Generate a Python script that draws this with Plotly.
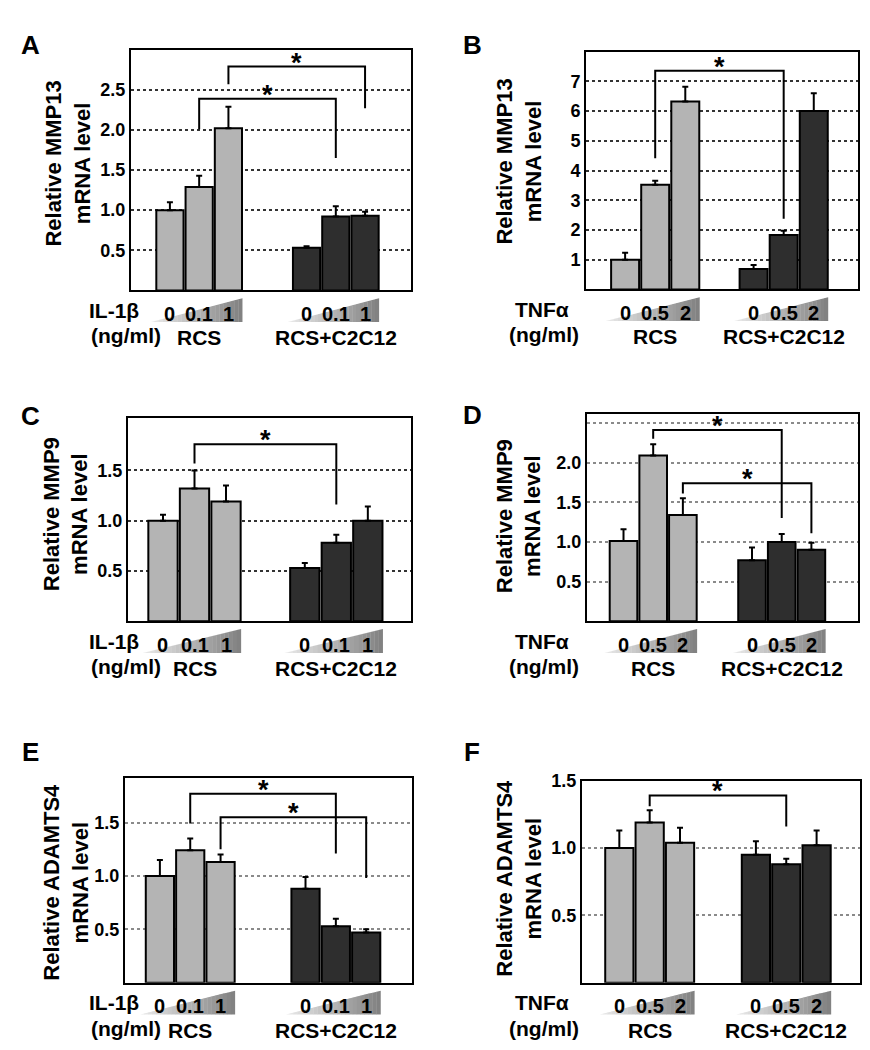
import plotly.graph_objects as go

W, H = 870, 1050
FONT = "Liberation Sans, Arial, sans-serif"

# ---------------- data ----------------
panel_letters = ["A", "B", "C", "D", "E", "F"]
genes = ["MMP13", "MMP13", "MMP9", "MMP9", "ADAMTS4", "ADAMTS4"]
stimuli = ["IL-1β", "TNFα", "IL-1β", "TNFα", "IL-1β", "TNFα"]
doses_il1b = ["0", "0.1", "1"]
doses_tnfa = ["0", "0.5", "2"]
groups = ["RCS", "RCS+C2C12"]

# means: RCS (3 doses) then RCS+C2C12 (3 doses); errors are upper SD
A_mean = [1.00, 1.29, 2.02, 0.53, 0.92, 0.93]
A_err = [0.10, 0.14, 0.27, 0.02, 0.13, 0.05]
B_mean = [1.00, 3.52, 6.32, 0.69, 1.83, 6.00]
B_err = [0.23, 0.14, 0.50, 0.13, 0.14, 0.60]
C_mean = [1.00, 1.32, 1.19, 0.53, 0.78, 1.00]
C_err = [0.06, 0.18, 0.16, 0.05, 0.08, 0.14]
D_mean = [1.01, 2.09, 1.34, 0.77, 1.00, 0.90]
D_err = [0.15, 0.14, 0.21, 0.16, 0.10, 0.09]
E_mean = [1.00, 1.24, 1.13, 0.88, 0.53, 0.47]
E_err = [0.15, 0.11, 0.07, 0.11, 0.07, 0.03]
F_mean = [1.00, 1.19, 1.04, 0.95, 0.88, 1.02]
F_err = [0.13, 0.09, 0.11, 0.10, 0.04, 0.11]

# significance brackets: (from bar, to bar, top, left end, right end)
A_sig = [(1, 4, 2.39, 2.01, 1.65), (2, 5, 2.79, 2.57, 2.27)]
B_sig = [(1, 4, 7.36, 4.41, 2.38)]
C_sig = [(1, 4, 1.76, 1.57, 1.16)]
D_sig = [(1, 4, 2.41, 2.30, 1.30), (2, 5, 1.74, 1.61, 1.11)]
E_sig = [(1, 4, 1.77, 1.49, 1.21), (2, 5, 1.55, 1.25, 0.98)]
F_sig = [(1, 4, 1.39, 1.31, 1.16)]

A_ticks = [0.5, 1.0, 1.5, 2.0, 2.5]
B_ticks = [1, 2, 3, 4, 5, 6, 7]
C_ticks = [0.5, 1.0, 1.5]
D_ticks = [0.5, 1.0, 1.5, 2.0, 2.5]
E_ticks = [0.5, 1.0, 1.5]
F_ticks = [0.5, 1.0, 1.5]
A_ticktext = ["0.5", "1.0", "1.5", "2.0", "2.5"]
B_ticktext = ["1", "2", "3", "4", "5", "6", "7"]
C_ticktext = ["0.5", "1.0", "1.5"]
D_ticktext = ["0.5", "1.0", "1.5", "2.0", ""]
E_ticktext = ["0.5", "1.0", "1.5"]
F_ticktext = ["0.5", "1.0", "1.5"]

means = [A_mean, B_mean, C_mean, D_mean, E_mean, F_mean]
errs = [A_err, B_err, C_err, D_err, E_err, F_err]
sigs = [A_sig, B_sig, C_sig, D_sig, E_sig, F_sig]
ticks = [A_ticks, B_ticks, C_ticks, D_ticks, E_ticks, F_ticks]
ticktexts = [A_ticktext, B_ticktext, C_ticktext, D_ticktext, E_ticktext, F_ticktext]

# ---------------- layout (pixels) ----------------
boxes = [(123, 403, 32, 275), (578, 850, 34, 274),
         (120, 403, 404, 609), (579, 850, 400, 609),
         (117, 404, 767, 974), (574, 852, 770, 974)]
yranges = [3.0, 8.0, 2.02, 2.61, 1.92, 1.5]
gaps = [2.67, 2.27, 2.5, 2.33, 2.8, 2.5]
xranges = [(-1.33, 8.24), (-1.3, 7.74), (-1.11, 7.87), (-1.23, 7.9), (-1.15, 8.31), (-1.23, 7.93)]
gridcolors = ["#333333", "#333333", "#333333", "#8a8a8a", "#8a8a8a", "#8a8a8a"]
letter_pos = [(22, 27), (465, 27), (22, 402), (464, 401), (22, 741), (464, 741)]
ytitle_pos = [(60, 147), (511, 145), (58, 501), (511, 503), (58, 873), (511, 869)]

LIGHT = "#b4b4b4"
DARK = "#2e2e2e"

fig = go.Figure()
shapes = []
annotations = []


def px_x(p):
    return p / W


def px_y(p):
    return 1 - p / H


def lerp_color(c1, c2, t):
    r = int(c1[0] + (c2[0] - c1[0]) * t)
    g = int(c1[1] + (c2[1] - c1[1]) * t)
    b = int(c1[2] + (c2[2] - c1[2]) * t)
    return f"rgb({r},{g},{b})"


for i in range(6):
    sfx = "" if i == 0 else str(i + 1)
    xa, ya = "x" + sfx, "y" + sfx
    L, R, T, B = boxes[i]
    gap = gaps[i]
    xpos = [0, 1, 2, 2 + gap, 3 + gap, 4 + gap]
    m, e = means[i], errs[i]
    doses = doses_il1b if stimuli[i] == "IL-1β" else doses_tnfa

    for g, col in enumerate([LIGHT, DARK]):
        fig.add_trace(go.Bar(
            x=xpos[3 * g:3 * g + 3], y=m[3 * g:3 * g + 3],
            width=0.93, marker=dict(color=col, line=dict(color="black", width=2)),
            error_y=dict(type="data", array=e[3 * g:3 * g + 3], arrayminus=[0, 0, 0],
                         symmetric=False, color="black", thickness=2, width=3),
            xaxis=xa, yaxis=ya, showlegend=False, name=groups[g]))

    fig.layout["xaxis" + sfx] = dict(
        domain=[px_x(L), px_x(R)], range=list(xranges[i]), anchor=ya,
        showticklabels=False, ticks="", showgrid=False, zeroline=False,
        showline=True, mirror=True, linecolor="black", linewidth=2)
    fig.layout["yaxis" + sfx] = dict(
        domain=[px_y(B), px_y(T)], range=[0, yranges[i]], anchor=xa,
        tickvals=ticks[i], ticktext=ticktexts[i], ticks="",
        tickfont=dict(family=FONT, size=18, color="black", weight="bold"),
        showgrid=True, gridcolor=gridcolors[i], griddash="dot", gridwidth=1.5,
        zeroline=False, showline=True, mirror=True, linecolor="black", linewidth=2)

    # significance brackets
    for (a, b, yt, yl, yr) in sigs[i]:
        x1, x2 = xpos[a], xpos[b]
        shapes.append(dict(type="path", xref=xa, yref=ya,
                           path=f"M {x1},{yl} L {x1},{yt} L {x2},{yt} L {x2},{yr}",
                           line=dict(color="black", width=2)))
        annotations.append(dict(x=(x1 + x2) / 2, y=yt, xref=xa, yref=ya, text="*",
                                showarrow=False, yanchor="bottom", yshift=-13,
                                font=dict(family=FONT, size=27, color="black", weight="bold")))

    # gradient wedges
    ybot = px_y(B + 32)
    ytop = px_y(B + 8)
    for g in range(2):
        xs = xpos[3 * g] - 0.65
        xe = xpos[3 * g + 2] + 0.47
        N = 24
        for k in range(N):
            a0 = xs + (xe - xs) * k / N
            a1 = xs + (xe - xs) * (k + 1) / N + 0.01
            h0 = ybot + (ytop - ybot) * (k / N)
            h1 = ybot + (ytop - ybot) * min(1, (k + 1) / N)
            shapes.append(dict(type="path", xref=xa, yref="paper",
                               path=f"M {a0},{ybot} L {a1},{ybot} L {a1},{h1} L {a0},{h0} Z",
                               fillcolor=lerp_color((236, 236, 236), (128, 128, 128), (k + 0.5) / N),
                               line=dict(width=0), layer="below"))
        for k in range(3):
            annotations.append(dict(x=xpos[3 * g + k], y=px_y(B + 24), xref=xa, yref="paper",
                                    text=doses[k], showarrow=False, yanchor="middle",
                                    font=dict(family=FONT, size=20, color="black", weight="bold")))
        annotations.append(dict(x=xpos[3 * g + 1], y=px_y(B + 48), xref=xa, yref="paper",
                                text=groups[g], showarrow=False, yanchor="middle",
                                font=dict(family=FONT, size=21, color="black", weight="bold")))

    # stimulus labels
    sx = 79 if i % 2 == 0 else 534
    annotations.append(dict(x=px_x(sx), y=px_y(B + 20), xref="paper", yref="paper",
                            text=stimuli[i], showarrow=False, yanchor="middle",
                            font=dict(family=FONT, size=21, color="black", weight="bold")))
    annotations.append(dict(x=px_x(sx + 2), y=px_y(B + 46), xref="paper", yref="paper",
                            text="(ng/ml)", showarrow=False, yanchor="middle",
                            font=dict(family=FONT, size=21, color="black", weight="bold")))

    # y title
    tx, ty = ytitle_pos[i]
    annotations.append(dict(x=px_x(tx), y=px_y(ty), xref="paper", yref="paper",
                            text=f"Relative {genes[i]}<br>mRNA level", textangle=-90,
                            showarrow=False, xanchor="center", yanchor="middle", align="center",
                            font=dict(family=FONT, size=22, color="black", weight="bold")))

    # panel letter
    lx, ly = letter_pos[i]
    annotations.append(dict(x=px_x(lx), y=px_y(ly), xref="paper", yref="paper",
                            text=panel_letters[i], showarrow=False, xanchor="center", yanchor="middle",
                            font=dict(family=FONT, size=26, color="black", weight="bold")))

fig.update_layout(width=W, height=H, margin=dict(l=0, r=0, t=0, b=0),
                  paper_bgcolor="white", plot_bgcolor="white", barmode="overlay",
                  shapes=shapes, annotations=annotations, showlegend=False)

fig.write_html("out.html")
